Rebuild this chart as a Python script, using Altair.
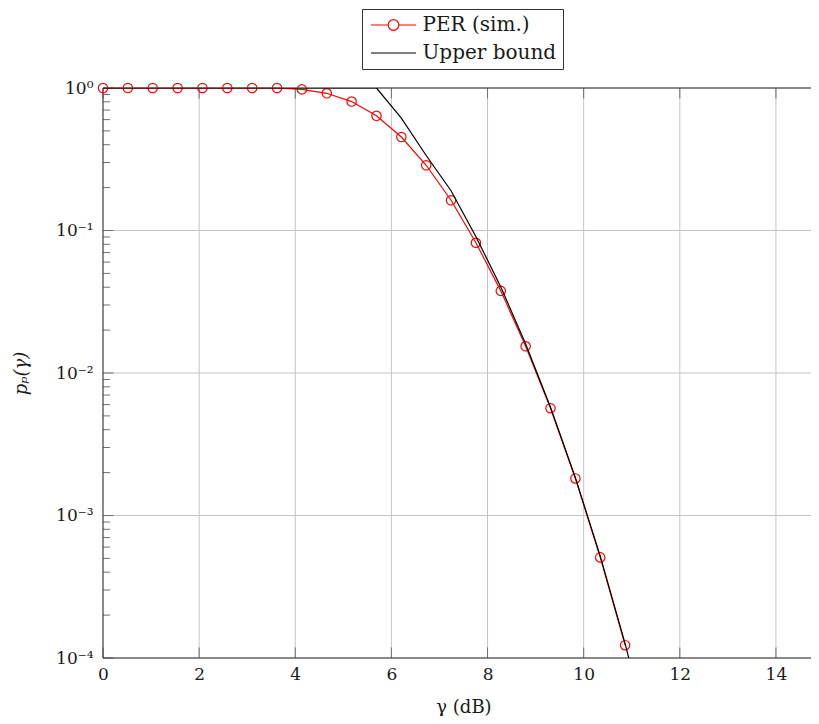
import altair as alt
import pandas as pd

# ---------------- data ----------------
x_sim = [0.0, 0.517, 1.034, 1.552, 2.069, 2.586, 3.103, 3.621, 4.138, 4.655, 5.172,
         5.690, 6.207, 6.724, 7.241, 7.759, 8.276, 8.793, 9.310, 9.828, 10.345, 10.862]
per_sim = [1.0, 1.0, 1.0, 1.0, 1.0, 1.0, 1.0, 1.0, 0.978, 0.918, 0.803,
           0.638, 0.453, 0.287, 0.163, 0.0820, 0.0377, 0.0154, 0.00566, 0.00182, 0.000508, 0.000123]

x_bound = [0.0, 0.517, 1.034, 1.552, 2.069, 2.586, 3.103, 3.621, 4.138, 4.655, 5.172,
           5.690, 6.207, 6.724, 7.241, 7.759, 8.276, 8.793, 9.310, 9.828, 10.345, 10.862, 11.379]
upper_bound = [1.0, 1.0, 1.0, 1.0, 1.0, 1.0, 1.0, 1.0, 1.0, 1.0, 1.0,
               1.0, 0.615, 0.336, 0.190, 0.0905, 0.0402, 0.0160, 0.00575, 0.00184, 0.000518, 0.000126, 0.000026]

series_names = ["PER (sim.)", "Upper bound"]
series_colors = ["#ff0000", "#000000"]

x_ticks = [0, 2, 4, 6, 8, 10, 12, 14]
y_major = [1e-4, 1e-3, 1e-2, 1e-1, 1.0]
y_minor = [m * 10.0 ** e for e in range(-4, 0) for m in range(2, 10)]

x_title = "γ (dB)"
y_title = "pₚ(γ)"

# ---------------- styling ----------------
FONT = "DejaVu Serif"
TXT = "#1a1a1a"
GRID = "#c4c4c4"
TICK = "#707070"
FRAME = "#333333"
W, H = 721, 570
MAJOR_LEN, MINOR_LEN = 10.5, 7

sim_df = pd.DataFrame({"x": x_sim, "y": per_sim, "series": series_names[0]})
bound_df = pd.DataFrame({"x": x_bound, "y": upper_bound, "series": series_names[1]})
xt_df = pd.DataFrame({"x": x_ticks})
ymaj_df = pd.DataFrame({"y": y_major})
ymin_df = pd.DataFrame({"y": y_minor})

x_scale = alt.Scale(domain=[0, 15], nice=False, zero=False)
y_scale = alt.Scale(type="log", domain=[1e-4, 1], nice=False)
color_scale = alt.Scale(domain=series_names, range=series_colors)

y_label_expr = ("datum.value >= 0.5 ? '10⁰' : datum.value >= 0.05 ? '10⁻¹' : "
                "datum.value >= 0.005 ? '10⁻²' : datum.value >= 0.0005 ? '10⁻³' : '10⁻⁴'")

x_axis = alt.Axis(values=x_ticks, grid=False, ticks=False, tickSize=0, domain=False,
                  labelFlush=False, labelFont=FONT, labelFontSize=17, labelColor=TXT,
                  labelPadding=8,
                  title=x_title, titleFont=FONT, titleFontSize=18, titleFontWeight="normal",
                  titleColor=TXT, titleX=W / 2, titleY=49, titleBaseline="middle", titleAlign="center")
y_axis = alt.Axis(values=y_major, grid=False, ticks=False, tickSize=0, domain=False,
                  labelFlush=False, labelExpr=y_label_expr,
                  labelFont=FONT, labelFontSize=17, labelColor=TXT, labelPadding=10,
                  title=y_title, titleFont=FONT, titleFontSize=18, titleFontWeight="normal",
                  titleFontStyle="italic", titleColor=TXT, titleX=-82, titleY=H / 2,
                  titleAngle=270, titleBaseline="middle", titleAlign="center")

# legend: custom symbol paths (line with circle / plain line)
PER_SYMBOL = ("M-2.5,0H-0.59M0.59,0H2.5M-0.59,0A0.59,0.59,0,1,1,0.59,0"
              "A0.59,0.59,0,1,1,-0.59,0Z")
LINE_SYMBOL = "M-2.5,0H2.5"
legend = alt.Legend(title=None, orient="none", legendX=259, legendY=-79, direction="vertical",
                    symbolType=alt.ExprRef(expr="datum.value == 'PER (sim.)' ? '" + PER_SYMBOL
                                           + "' : '" + LINE_SYMBOL + "'"),
                    symbolSize=324, symbolStrokeWidth=1.2, symbolOpacity=1,
                    symbolFillColor="transparent", symbolOffset=15.5,
                    labelFont=FONT, labelFontSize=20, labelColor=TXT, labelOffset=19, labelLimit=0,
                    strokeColor="#333333", fillColor="white", padding=6, rowPadding=8)

color = alt.Color("series:N", scale=color_scale, legend=legend)
X = alt.X("x:Q", scale=x_scale, axis=x_axis)
Y = alt.Y("y:Q", scale=y_scale, axis=y_axis)

# grid lines
grid_x = alt.Chart(xt_df).mark_rule(color=GRID, strokeWidth=1).encode(
    x=X, y=alt.value(0), y2=alt.value(H))
grid_y = alt.Chart(ymaj_df).mark_rule(color=GRID, strokeWidth=1).encode(
    y=Y, x=alt.value(0), x2=alt.value(W))

# inward tick marks on the left, bottom and top edges
tick_style = dict(color=TICK, strokeWidth=1)
ticks_left_major = alt.Chart(ymaj_df).mark_rule(**tick_style).encode(
    y=Y, x=alt.value(0), x2=alt.value(MAJOR_LEN))
ticks_left_minor = alt.Chart(ymin_df).mark_rule(**tick_style).encode(
    y=Y, x=alt.value(0), x2=alt.value(MINOR_LEN))
ticks_bottom = alt.Chart(xt_df).mark_rule(**tick_style).encode(
    x=X, y=alt.value(H - MAJOR_LEN), y2=alt.value(H))
ticks_top = alt.Chart(xt_df).mark_rule(**tick_style).encode(
    x=X, y=alt.value(0), y2=alt.value(MAJOR_LEN))

# plot frame (left, top, bottom; the right edge lies outside the cropped view)
frame_df = pd.DataFrame({"x": [0]})
frame_style = dict(color=FRAME, strokeWidth=1)
frame_left = alt.Chart(frame_df).mark_rule(**frame_style).encode(
    x=X, y=alt.value(0), y2=alt.value(H))
frame_top = alt.Chart(frame_df).mark_rule(**frame_style).encode(
    y=alt.value(0), x=alt.value(0), x2=alt.value(W))
frame_bottom = alt.Chart(frame_df).mark_rule(**frame_style).encode(
    y=alt.value(H), x=alt.value(0), x2=alt.value(W))

per_line = alt.Chart(sim_df).mark_line(strokeWidth=1.2).encode(x=X, y=Y, color=color)
per_points = alt.Chart(sim_df).mark_point(shape="circle", filled=False, size=88,
                                          strokeWidth=1.2, opacity=1).encode(x=X, y=Y, color=color)
bound_line = alt.Chart(bound_df).mark_line(strokeWidth=1.2, clip=True).encode(x=X, y=Y, color=color)

chart = (
    alt.layer(grid_x, grid_y, ticks_left_major, ticks_left_minor, ticks_bottom, ticks_top,
              frame_left, frame_top, frame_bottom,
              per_line, per_points, bound_line)
    .properties(width=W, height=H,
                autosize=alt.AutoSizeParams(type="none"),
                padding={"left": 95, "top": 80, "right": -13, "bottom": 58})
    .configure(font=FONT)
    .configure_view(stroke=None)
)

chart.save("out.html", embed_options={"renderer": "svg", "actions": False})
